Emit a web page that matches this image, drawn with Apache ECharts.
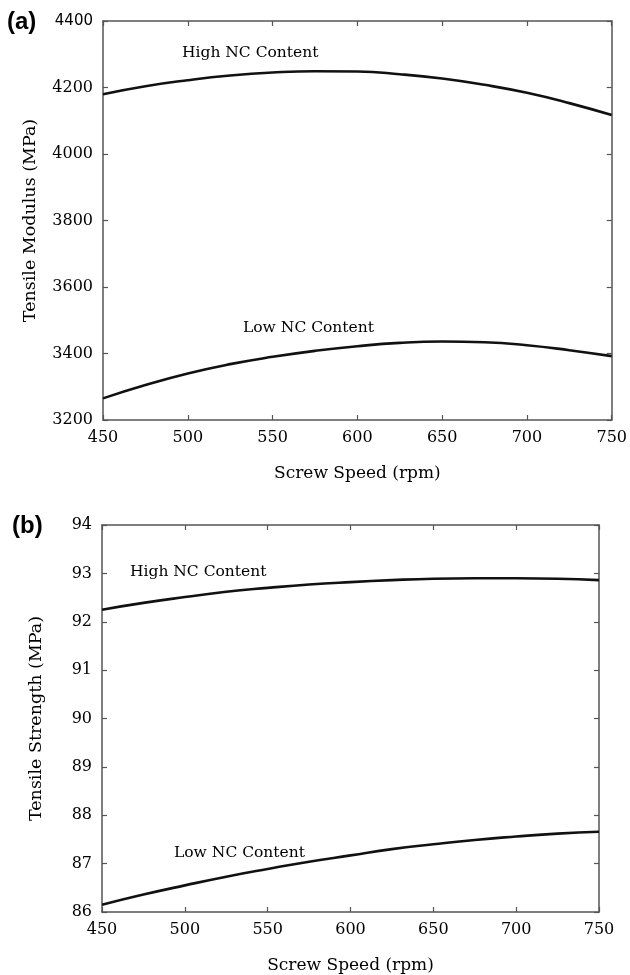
<!DOCTYPE html>
<html>
<head>
<meta charset="utf-8">
<script src="https://cdn.jsdelivr.net/npm/echarts@6/dist/echarts.min.js"></script>
<style>
html,body{margin:0;padding:0;background:#fff;}
#chart{width:630px;height:975px;}
</style>
</head>
<body>
<div id="chart"></div>
<script>
// Screw speed (rpm)
var speeds = [450, 475, 500, 525, 550, 575, 600, 625, 650, 675, 700, 725, 750];
// (a) Tensile modulus (MPa)
var modulusHigh = [4180, 4204, 4222, 4236, 4245, 4249, 4248, 4240, 4227, 4208, 4184, 4153, 4117];
var modulusLow  = [3265, 3305, 3340, 3368, 3390, 3408, 3422, 3432, 3436, 3434, 3425, 3410, 3392];
// (b) Tensile strength (MPa)
var strengthHigh = [92.25, 92.39, 92.51, 92.62, 92.70, 92.77, 92.82, 92.86, 92.89, 92.90, 92.90, 92.89, 92.86];
var strengthLow  = [86.15, 86.36, 86.55, 86.73, 86.89, 87.04, 87.17, 87.30, 87.40, 87.49, 87.56, 87.62, 87.66];
var xTicks = [450, 500, 550, 600, 650, 700, 750];
var modulusTicks = [3200, 3400, 3600, 3800, 4000, 4200, 4400];
var strengthTicks = [86, 87, 88, 89, 90, 91, 92, 93, 94];

var SERIF = '"DejaVu Serif", "Liberation Serif", serif';
var AX = '#555';

function pairs(xs, ys){ return xs.map(function(x,i){ return [x, ys[i]]; }); }

function xAxisMain(grid, name){
  return {
    type:'value', gridIndex:grid, min:xTicks[0], max:xTicks[xTicks.length-1], interval:50,
    name:name, nameLocation:'middle', nameGap:45,
    nameTextStyle:{fontFamily:SERIF, fontSize:17, color:'#000'},
    axisLine:{show:true, onZero:false, lineStyle:{color:AX, width:1.5}},
    axisTick:{show:true, inside:true, length:5, lineStyle:{color:AX, width:1.2}},
    axisLabel:{fontFamily:SERIF, fontSize:16, color:'#000', margin:10},
    splitLine:{show:false}
  };
}
function xAxisMirror(grid){
  return {
    type:'value', gridIndex:grid, position:'top', min:xTicks[0], max:xTicks[xTicks.length-1], interval:50,
    axisLine:{show:true, onZero:false, lineStyle:{color:AX, width:1.5}},
    axisTick:{show:true, inside:true, length:5, lineStyle:{color:AX, width:1.2}},
    axisLabel:{show:false}, splitLine:{show:false}
  };
}
function yAxisMain(grid, ticks, interval, name, gap, fmt){
  return {
    type:'value', gridIndex:grid, min:ticks[0], max:ticks[ticks.length-1], interval:interval,
    name:name, nameLocation:'middle', nameGap:gap,
    nameTextStyle:{fontFamily:SERIF, fontSize:17.5, color:'#000'},
    axisLine:{show:true, onZero:false, lineStyle:{color:AX, width:1.5}},
    axisTick:{show:true, inside:true, length:5, lineStyle:{color:AX, width:1.2}},
    axisLabel:{fontFamily:SERIF, fontSize:16, color:'#000', margin:10, formatter:fmt,
      rich:{sans:{fontFamily:'"DejaVu Sans", "Liberation Sans", sans-serif', fontSize:15, color:'#000'}}},
    splitLine:{show:false}
  };
}
function yAxisMirror(grid, ticks, interval){
  return {
    type:'value', gridIndex:grid, position:'right', min:ticks[0], max:ticks[ticks.length-1], interval:interval,
    axisLine:{show:true, onZero:false, lineStyle:{color:AX, width:1.5}},
    axisTick:{show:true, inside:true, length:5, lineStyle:{color:AX, width:1.2}},
    axisLabel:{show:false}, splitLine:{show:false}
  };
}
function lineSeries(xi, yi, data){
  return {type:'line', xAxisIndex:xi, yAxisIndex:yi, data:data, smooth:true, symbol:'none',
    lineStyle:{color:'#111', width:2.6}, animation:false, silent:true};
}
function note(text, left, cy){
  return {type:'text', left:left, top:cy-9, style:{text:text, fontFamily:SERIF, fontSize:15.5, fill:'#000'}};
}

var chart = echarts.init(document.getElementById('chart'), null, {renderer:'canvas'});
chart.setOption({
  backgroundColor:'#fff',
  animation:false,
  grid:[
    {left:103, top:21, width:509, height:399},
    {left:102, top:525, width:497, height:388}
  ],
  xAxis:[
    xAxisMain(0, 'Screw Speed (rpm)'), xAxisMirror(0),
    xAxisMain(1, 'Screw Speed (rpm)'), xAxisMirror(1)
  ],
  yAxis:[
    yAxisMain(0, modulusTicks, 200, 'Tensile Modulus (MPa)', 64,
      function(v){ return v === 4400 ? '{sans|' + v + '}' : String(v); }),
    yAxisMirror(0, modulusTicks, 200),
    yAxisMain(1, strengthTicks, 1, 'Tensile Strength (MPa)', 57, function(v){ return String(v); }),
    yAxisMirror(1, strengthTicks, 1)
  ],
  series:[
    lineSeries(0, 0, pairs(speeds, modulusHigh)),
    lineSeries(0, 0, pairs(speeds, modulusLow)),
    lineSeries(2, 2, pairs(speeds, strengthHigh)),
    lineSeries(2, 2, pairs(speeds, strengthLow))
  ],
  graphic:[
    {type:'text', left:7, top:10, style:{text:'(a)', fontFamily:'"Liberation Sans", Arial, sans-serif', fontWeight:'bold', fontSize:24, fill:'#000'}},
    {type:'text', left:12, top:514, style:{text:'(b)', fontFamily:'"Liberation Sans", Arial, sans-serif', fontWeight:'bold', fontSize:24, fill:'#000'}},
    note('High NC Content', 182, 54),
    note('Low NC Content', 243, 329),
    note('High NC Content', 130, 573),
    note('Low NC Content', 174, 854)
  ]
});
</script>
</body>
</html>
